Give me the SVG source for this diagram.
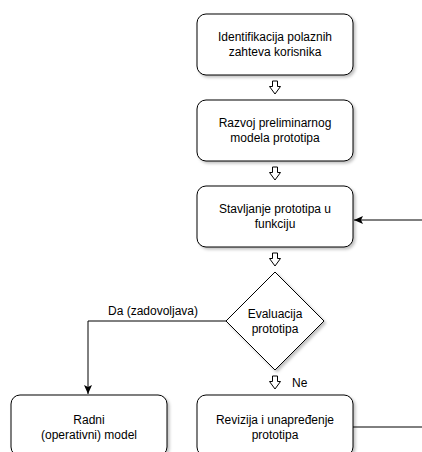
<svg xmlns="http://www.w3.org/2000/svg" width="422" height="452" viewBox="0 0 422 452">
<defs>
<filter id="sh" x="-10%" y="-10%" width="125%" height="130%">
<feDropShadow dx="2" dy="2" stdDeviation="1.5" flood-color="#000" flood-opacity="0.25"/>
</filter>
<marker id="ah" markerWidth="10" markerHeight="8" refX="9" refY="4" orient="auto" markerUnits="userSpaceOnUse">
<path d="M0,0 L9,4 L0,8 L2,4 Z" fill="#000"/>
</marker>
<path id="blk" d="M-2.5,0 H2.5 V5.5 H5.5 L0,13 L-5.5,5.5 H-2.5 Z"/>
</defs>
<style>
.box{fill:#fff;stroke:#000;stroke-width:1;filter:url(#sh)}
.t{font-family:"Liberation Sans",Arial,sans-serif;font-size:12px;fill:#000;text-anchor:middle}
.l{font-family:"Liberation Sans",Arial,sans-serif;font-size:12px;fill:#000}
.c{fill:none;stroke:#000;stroke-width:1}
.ba{fill:#fff;stroke:#000;stroke-width:1}
</style>
<rect width="422" height="452" fill="#fff"/>
<g id="connectors">
<use href="#blk" class="ba" x="275" y="81"/>
<use href="#blk" class="ba" x="275" y="167"/>
<use href="#blk" class="ba" x="275" y="253"/>
<use href="#blk" class="ba" x="275" y="376"/>
<path class="c" d="M226,321 H88 V394" marker-end="url(#ah)"/>
<path class="c" d="M353,427 H440 V220 H354" marker-end="url(#ah)"/>
<text class="l" x="108" y="315">Da (zadovoljava)</text>
<text class="l" x="292" y="387">Ne</text>
</g>
<g id="n1">
<rect class="box" x="197" y="14" width="156" height="61" rx="9"/>
<text class="t" x="275" y="41">Identifikacija polaznih</text>
<text class="t" x="275" y="56">zahteva korisnika</text>
</g>
<g id="n2">
<rect class="box" x="197" y="100" width="156" height="61" rx="9"/>
<text class="t" x="275" y="127">Razvoj preliminarnog</text>
<text class="t" x="275" y="142">modela prototipa</text>
</g>
<g id="n3">
<rect class="box" x="197" y="186" width="156" height="61" rx="9"/>
<text class="t" x="275" y="213">Stavljanje prototipa u</text>
<text class="t" x="275" y="228">funkciju</text>
</g>
<g id="n4">
<path class="box" d="M275,272 L324,321 L275,370 L226,321 Z"/>
<text class="t" x="275" y="318">Evaluacija</text>
<text class="t" x="275" y="333">prototipa</text>
</g>
<g id="n5">
<rect class="box" x="11" y="395" width="156" height="61" rx="9"/>
<text class="t" x="89" y="424">Radni</text>
<text class="t" x="89" y="439">(operativni) model</text>
</g>
<g id="n6">
<rect class="box" x="197" y="395" width="156" height="61" rx="9"/>
<text class="t" x="275" y="424">Revizija i unapređenje</text>
<text class="t" x="275" y="439">prototipa</text>
</g>
</svg>
